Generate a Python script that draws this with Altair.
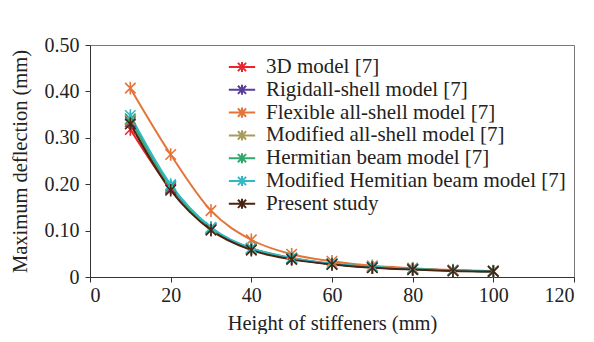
import altair as alt
import pandas as pd

heights = [10, 20, 30, 40, 50, 60, 70, 80, 90, 100]
series_names = [
    "3D model [7]",
    "Rigidall-shell model [7]",
    "Flexible all-shell model [7]",
    "Modified all-shell model [7]",
    "Hermitian beam model [7]",
    "Modified Hemitian beam model [7]",
    "Present study",
]
model_3d = [0.318, 0.190, 0.103, 0.060, 0.040, 0.028, 0.021, 0.017, 0.014, 0.012]
rigidall = [0.335, 0.193, 0.104, 0.061, 0.040, 0.028, 0.021, 0.017, 0.014, 0.012]
flexible = [0.407, 0.264, 0.143, 0.080, 0.049, 0.034, 0.024, 0.019, 0.015, 0.013]
modified_shell = [0.338, 0.195, 0.105, 0.061, 0.040, 0.028, 0.021, 0.017, 0.014, 0.012]
hermitian = [0.341, 0.196, 0.105, 0.062, 0.041, 0.028, 0.021, 0.017, 0.014, 0.012]
mod_hermitian = [0.348, 0.199, 0.107, 0.062, 0.041, 0.029, 0.022, 0.017, 0.014, 0.012]
present = [0.330, 0.187, 0.101, 0.058, 0.038, 0.027, 0.020, 0.016, 0.013, 0.012]
colors = ["#e8262e", "#5a3d9a", "#e4743a", "#a89c58", "#2fa86c", "#33b9c6", "#4a2412"]

all_series = [model_3d, rigidall, flexible, modified_shell, hermitian, mod_hermitian, present]
rows = []
for i, (name, vals) in enumerate(zip(series_names, all_series)):
    for h, v in zip(heights, vals):
        rows.append({"h": h, "d": v, "model": name, "order": i})
df = pd.DataFrame(rows)

FONT = "Liberation Serif"
ASTER = "M-1,-1L1,1M-1,1L1,-1M0,-1.2L0,1.2"
LEG_SYM = ("M-1.35,0L1.35,0"
           "M-0.42,-0.42L0.42,0.42M-0.42,0.42L0.42,-0.42M0,-0.52L0,0.52")

color = alt.Color(
    "model:N",
    scale=alt.Scale(domain=series_names, range=colors),
    legend=alt.Legend(
        title=None,
        orient="none",
        legendX=141,
        legendY=11,
        symbolType=LEG_SYM,
        symbolSize=380,
        symbolStrokeWidth=2,
        symbolFillColor="transparent",
        labelFont=FONT,
        labelFontSize=21,
        labelColor="#222222",
        labelOffset=13,
        rowPadding=1.8,
        labelLimit=400,
    ),
)

x = alt.X("h:Q", scale=alt.Scale(domain=[0, 120], nice=False),
          axis=alt.Axis(values=[0, 20, 40, 60, 80, 100, 120], title="Height of stiffeners (mm)",
                        titlePadding=8, labelPadding=3))
y = alt.Y("d:Q", scale=alt.Scale(domain=[0, 0.5], nice=False),
          axis=alt.Axis(values=[0, 0.1, 0.2, 0.3, 0.4, 0.5], title="Maximum deflection (mm)",
                        labelExpr="datum.value == 0 ? '0' : format(datum.value, '.2f')",
                        titlePadding=14, labelPadding=6))

lines = alt.Chart(df).mark_line(interpolate="monotone", strokeWidth=2).encode(
    x=x, y=y, color=color, order="order:Q", detail="model:N"
)
points = alt.Chart(df).mark_point(shape=ASTER, size=110, filled=False, strokeWidth=1.6, opacity=1).encode(
    x=x, y=y, color=alt.Color("model:N", scale=alt.Scale(domain=series_names, range=colors), legend=None),
    order="order:Q",
)

chart = (
    alt.layer(lines, points)
    .properties(
        width=484,
        height=232,
        autosize=alt.AutoSizeParams(type="none"),
        padding={"left": 82, "top": 37, "right": 12, "bottom": 57},
    )
    .configure_view(stroke="#777777", strokeWidth=1)
    .configure_axis(
        grid=False,
        domainColor="#333333",
        tickColor="#333333",
        tickSize=5,
        labelFont=FONT,
        labelFontSize=20,
        labelColor="#222222",
        titleFont=FONT,
        titleFontSize=20.5,
        titleFontWeight="normal",
        titleColor="#222222",
    )
)

chart.save("out.html", embed_options={"renderer": "svg", "actions": False})
